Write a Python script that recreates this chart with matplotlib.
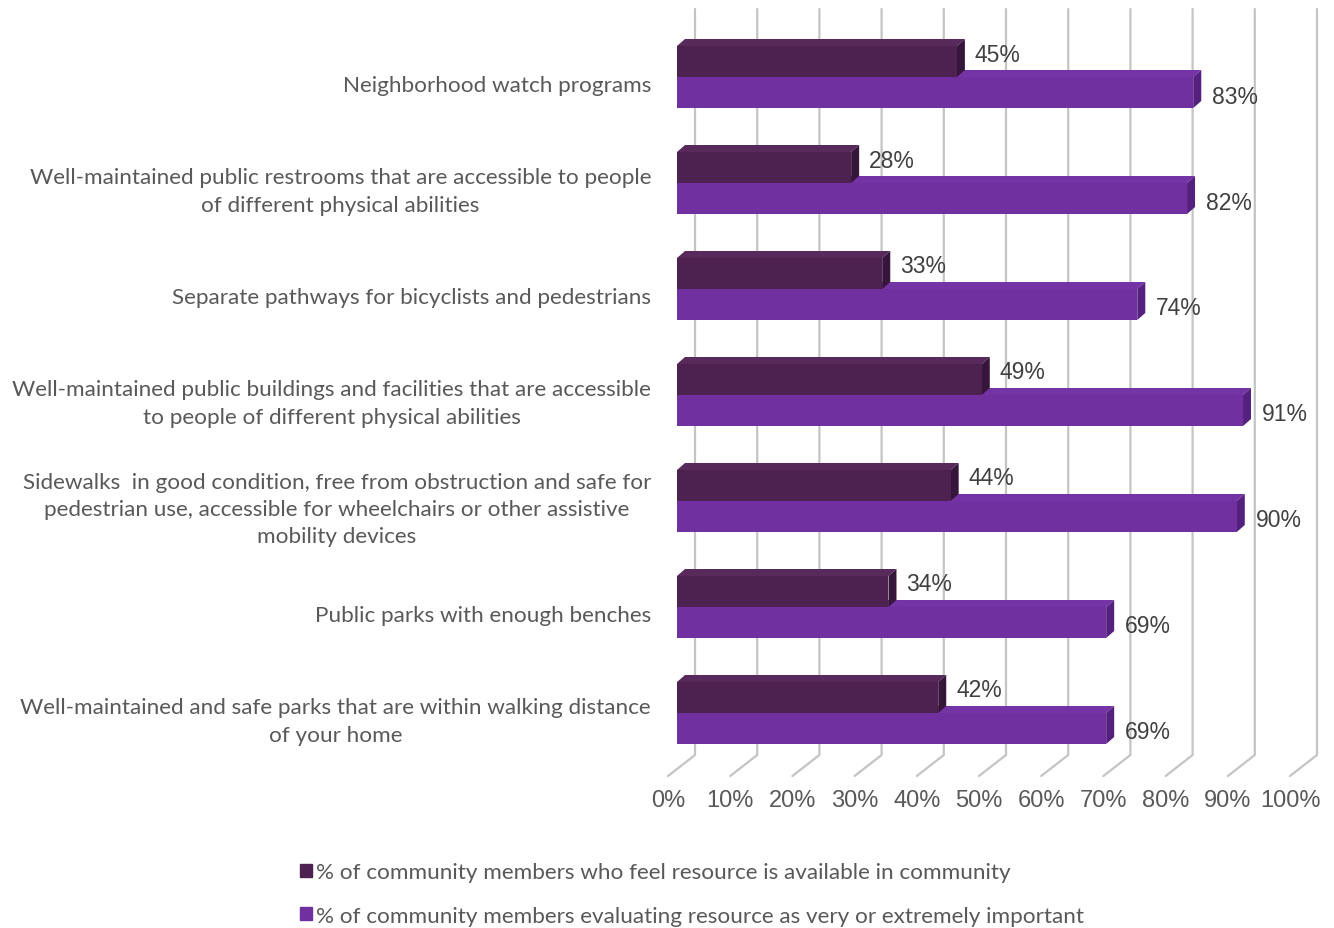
import numpy as np
import matplotlib
matplotlib.use('Agg')
import matplotlib.pyplot as plt
from matplotlib.patches import Polygon, Patch

categories = [
    'Neighborhood watch programs',
    'Well-maintained public restrooms that are accessible to people\nof different physical abilities',
    'Separate pathways for bicyclists and pedestrians',
    'Well-maintained public buildings and facilities that are accessible\nto people of different physical abilities',
    'Sidewalks  in good condition, free from obstruction and safe for\npedestrian use, accessible for wheelchairs or other assistive\nmobility devices',
    'Public parks with enough benches',
    'Well-maintained and safe parks that are within walking distance\nof your home',
]
available = [45, 28, 33, 49, 44, 34, 42]
important = [83, 82, 74, 91, 90, 69, 69]
ticks = np.arange(0, 101, 10)
series_names = ['% of community members who feel resource is available in community',
                '% of community members evaluating resource as very or extremely important']

# colours: front, top, side
dark = ('#4d2251', '#582a5b', '#37163c')
purple = ('#7030a0', '#7434a5', '#55217f')

W, H = 1334, 929
X0, SX = 677, 6.22       # pixel of 0% on the bar front, pixels per percent
Y0, SY = 78, 106         # pixel of first category, pixels per category

fig = plt.figure(figsize=(W / 100, H / 100), dpi=100)
ax = fig.add_axes([0, 0, 1, 1])
ax.set_xlim(-X0 / SX, (W - X0) / SX)
ax.set_ylim((H - Y0) / SY, -Y0 / SY)
ax.axis('off')


def px(dx, dy):
    # pixel offsets -> data offsets
    return dx / SX, dy / SY


# gridlines on back wall + floor
bx, _ = px(18, 0)
fx, _ = px(-9, 0)
ytop = (10 - Y0) / SY
yback = (756 - Y0) / SY
yfront = (777 - Y0) / SY
for k in ticks:
    ax.plot([k + bx, k + bx, k + fx], [ytop, yback, yfront], color='#c4c4c4',
            lw=1.6, solid_capstyle='round', zorder=1)
    ax.text(k + fx, (801 - Y0) / SY, f'{k}%', ha='center', va='center',
            fontsize=17, color='#595959', family='Liberation Sans')

h = 31 / SY
ddx, ddy = px(8, -7)


def bar3d(y_top, v, cols, top=True):
    f, t, s = cols
    if top:
        ax.add_patch(Polygon([(0, y_top), (v, y_top), (v + ddx, y_top + ddy),
                              (ddx, y_top + ddy)], closed=True, fc=t, ec='none', zorder=3))
    ax.add_patch(Polygon([(v, y_top), (v + ddx, y_top + ddy), (v + ddx, y_top + h + ddy),
                          (v, y_top + h)], closed=True, fc=s, ec='none', zorder=3))
    ax.barh(y_top + h / 2, v, height=h, color=f, zorder=4)


for i, (cat, a, b) in enumerate(zip(categories, available, important)):
    bar3d(i, b, purple)
    bar3d(i - h, a, dark)
    ax.text(a + (18 / SX), i - 23 / SY, f'{a}%', ha='left', va='center',
            fontsize=16.5, color='#404040', family='Liberation Sans', zorder=5)
    ax.text(b + (19 / SX), i + 19 / SY, f'{b}%', ha='left', va='center',
            fontsize=16.5, color='#404040', family='Liberation Sans', zorder=5)
    ax.text((651 - X0) / SX, i + 8 / SY, cat, ha='right', va='center', ma='center',
            fontsize=16.2, color='#595959', family='Lato', linespacing=1.45)

handles = [Patch(color=dark[0]), Patch(color=purple[0])]
fig.legend(handles, series_names, loc='center left', bbox_to_anchor=(280 / W, 1 - 895 / H),
           frameon=False, handlelength=0.5, handleheight=0.5, handletextpad=0.2,
           labelspacing=1.05, prop={'family': 'Lato', 'size': 16.2}, labelcolor='#595959')

fig.savefig('out.png', dpi=100)
